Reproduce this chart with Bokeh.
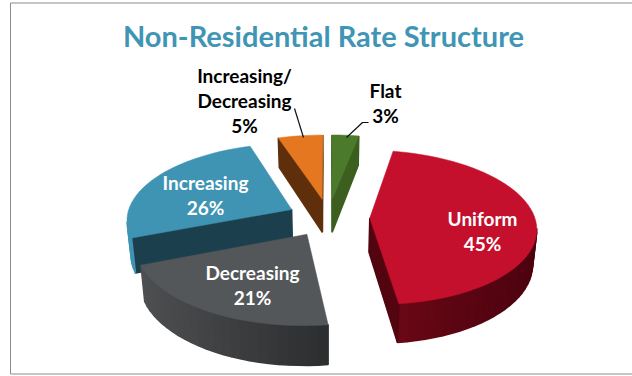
import math
from bokeh.core.properties import value
from bokeh.embed import file_html
from bokeh.models import ColumnDataSource, Range1d
from bokeh.plotting import figure
from bokeh.resources import INLINE

# Shares in clockwise order starting from twelve o'clock
categories = ["Flat", "Uniform", "Decreasing", "Increasing", "Increasing/\nDecreasing"]
shares = [3, 45, 21, 26, 5]
title = "Non-Residential Rate Structure"

top_colors = ["#4b7a2b", "#c4102c", "#54575a", "#3f94b4", "#e4771f"]
# Side-face shades: radial wall, outer wall at its left end, outer wall at its right end
wall_colors = [
    ("#3c5f20", "#3c5f20", "#3c5f20"),
    ("#52040f", "#6a0715", "#4c030f"),
    ("#2e2f30", "#4d4f51", "#2c2d2e"),
    ("#1c3f4d", "#3f94b4", "#3f94b4"),
    ("#5f2f0c", "#5f2f0c", "#5f2f0c"),
]
label_colors = ["#000000", "#ffffff", "#ffffff", "#ffffff", "#000000"]
label_centers = [(385, 90), (482, 218), (252, 272), (205, 182), (244, 75)]
leader_x = [[346, 362, 368], [294, 303]]
leader_y = [[137, 122, 122], [108, 137]]

# Perspective view of the tilted pie
CX, CY = 328.0, 217.0
RX, RY = 165.0, 76.0
TILT = 0.12
EXPLODE = 0.25
DEPTH = 34.0
BOTTOM_SCALE = 0.98


def project(u, v, lower=False):
    w = 1 + TILT * v
    x = CX + RX * u / w
    y = CY - RY * v / w
    if lower:
        x = CX + (x - CX) * BOTTOM_SCALE
        y += DEPTH / w
    return x, y


def mix(a, b, t):
    ca = [int(a[i:i + 2], 16) for i in (1, 3, 5)]
    cb = [int(b[i:i + 2], 16) for i in (1, 3, 5)]
    return "#%02x%02x%02x" % tuple(round(p + (q - p) * t) for p, q in zip(ca, cb))


def slice_faces(start, end, walls):
    """Top polygon and visible wall quads for one exploded slice (angles in degrees)."""
    mid = math.radians((start + end) / 2)
    du, dv = EXPLODE * math.sin(mid), EXPLODE * math.cos(mid)
    steps = max(int((end - start) / 3), 4)
    rim = []
    for i in range(steps + 1):
        a = math.radians(start + (end - start) * i / steps)
        rim.append((du + math.sin(a), dv + math.cos(a)))
    outline = [(du, dv)] + rim

    top_pts = [project(*q) for q in outline]
    low_pts = [project(*q, lower=True) for q in outline]
    rim_x = [q[0] for q in top_pts[1:]]
    lo, hi = min(rim_x), max(rim_x)

    quads = []
    n = len(outline)
    for i in range(n):
        j = (i + 1) % n
        if top_pts[j][0] >= top_pts[i][0]:
            continue
        if i == 0 or j == 0:
            color = walls[0]
        else:
            t = ((top_pts[i][0] + top_pts[j][0]) / 2 - lo) / max(hi - lo, 1)
            color = mix(walls[1], walls[2], t)
        quads.append((
            [top_pts[i][0], top_pts[j][0], low_pts[j][0], low_pts[i][0]],
            [top_pts[i][1], top_pts[j][1], low_pts[j][1], low_pts[i][1]],
            color,
        ))
    return top_pts, quads


p = figure(width=632, height=376, output_backend="svg", toolbar_location=None,
           x_range=Range1d(0, 632), y_range=Range1d(376, 0),
           min_border=0, outline_line_color=None)
p.axis.visible = False
p.grid.visible = False
p.background_fill_color = "#ffffff"

# Chart frame
p.line([631.5, 10, 10, 631.5], [2.5, 2.5, 373.5, 373.5], line_color="#8c8c8c", line_width=1)

# Slice boundaries accumulate from the shares
bounds = [0.0]
for s in shares:
    bounds.append(bounds[-1] + s * 3.6)

# Paint from the back of the pie to the front
for idx in [4, 0, 3, 1, 2]:
    top_pts, quads = slice_faces(bounds[idx], bounds[idx + 1], wall_colors[idx])
    side = ColumnDataSource(dict(xs=[q[0] for q in quads], ys=[q[1] for q in quads],
                                 c=[q[2] for q in quads]))
    p.patches("xs", "ys", source=side, fill_color="c", line_color="c", line_width=1.5)
    p.patch([q[0] for q in top_pts], [q[1] for q in top_pts],
            fill_color=top_colors[idx], line_color=top_colors[idx], line_width=0.5)

# Leader lines for the two small slices
p.multi_line(leader_x, leader_y, line_color="#111111", line_width=1.2)

# Data labels
LINE_STEP = 25
for name, share, color, (lx, ly) in zip(categories, shares, label_colors, label_centers):
    lines = name.split("\n") + [f"{share}%"]
    p.text([lx] * len(lines), [ly + LINE_STEP * i for i in range(len(lines))], text=lines,
           text_color=color, text_font=value("Lato"), text_font_style="bold",
           text_font_size="19px", text_align="center", text_baseline="middle")

p.text([323], [35], text=[title], text_color="#4095b5", text_font=value("Lato"),
       text_font_style="bold", text_font_size="29px",
       text_align="center", text_baseline="middle")

open("out.html", "w").write(file_html(p, INLINE))
